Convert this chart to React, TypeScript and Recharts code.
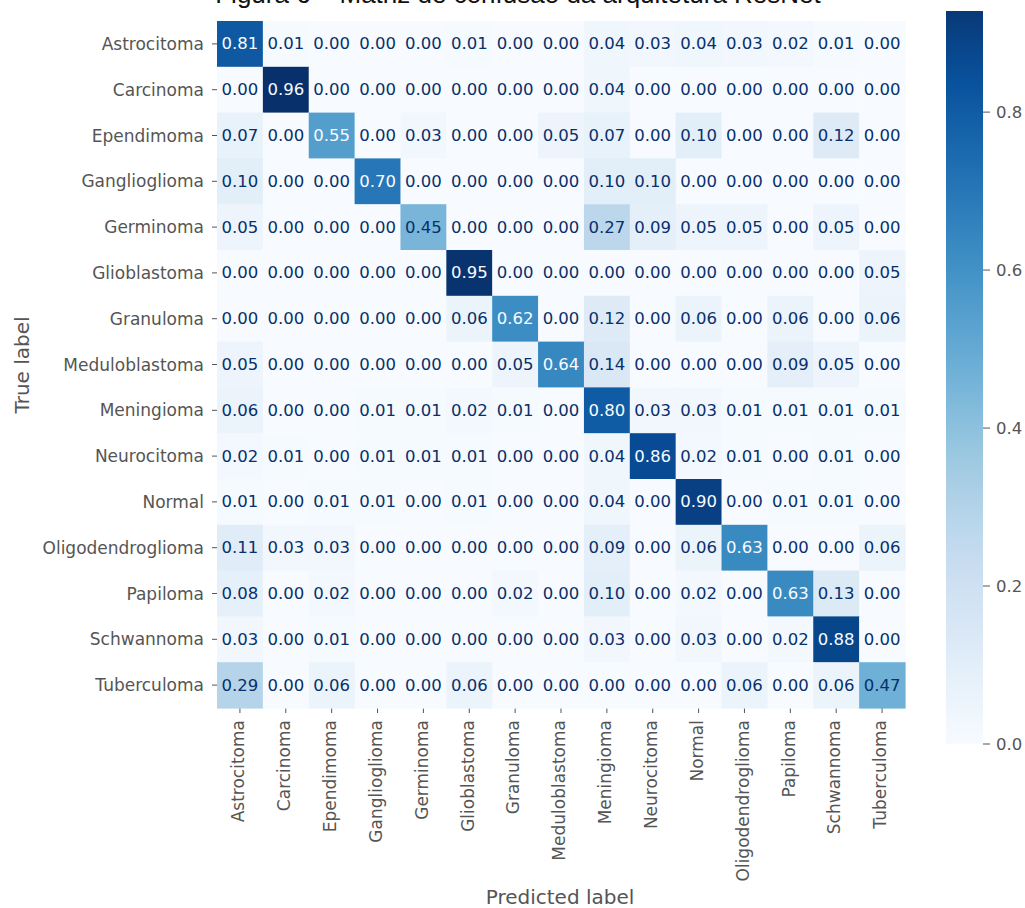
import React from 'react';
import {
  ScatterChart,
  Scatter,
  XAxis,
  YAxis,
  BarChart,
  Bar,
} from 'recharts';

// classes (same order on both axes)
const labels = [
  'Astrocitoma', 'Carcinoma', 'Ependimoma', 'Ganglioglioma', 'Germinoma',
  'Glioblastoma', 'Granuloma', 'Meduloblastoma', 'Meningioma', 'Neurocitoma',
  'Normal', 'Oligodendroglioma', 'Papiloma', 'Schwannoma', 'Tuberculoma',
];

// one row per true label
const astrocitoma = [0.81, 0.01, 0.00, 0.00, 0.00, 0.01, 0.00, 0.00, 0.04, 0.03, 0.04, 0.03, 0.02, 0.01, 0.00];
const carcinoma = [0.00, 0.96, 0.00, 0.00, 0.00, 0.00, 0.00, 0.00, 0.04, 0.00, 0.00, 0.00, 0.00, 0.00, 0.00];
const ependimoma = [0.07, 0.00, 0.55, 0.00, 0.03, 0.00, 0.00, 0.05, 0.07, 0.00, 0.10, 0.00, 0.00, 0.12, 0.00];
const ganglioglioma = [0.10, 0.00, 0.00, 0.70, 0.00, 0.00, 0.00, 0.00, 0.10, 0.10, 0.00, 0.00, 0.00, 0.00, 0.00];
const germinoma = [0.05, 0.00, 0.00, 0.00, 0.45, 0.00, 0.00, 0.00, 0.27, 0.09, 0.05, 0.05, 0.00, 0.05, 0.00];
const glioblastoma = [0.00, 0.00, 0.00, 0.00, 0.00, 0.95, 0.00, 0.00, 0.00, 0.00, 0.00, 0.00, 0.00, 0.00, 0.05];
const granuloma = [0.00, 0.00, 0.00, 0.00, 0.00, 0.06, 0.62, 0.00, 0.12, 0.00, 0.06, 0.00, 0.06, 0.00, 0.06];
const meduloblastoma = [0.05, 0.00, 0.00, 0.00, 0.00, 0.00, 0.05, 0.64, 0.14, 0.00, 0.00, 0.00, 0.09, 0.05, 0.00];
const meningioma = [0.06, 0.00, 0.00, 0.01, 0.01, 0.02, 0.01, 0.00, 0.80, 0.03, 0.03, 0.01, 0.01, 0.01, 0.01];
const neurocitoma = [0.02, 0.01, 0.00, 0.01, 0.01, 0.01, 0.00, 0.00, 0.04, 0.86, 0.02, 0.01, 0.00, 0.01, 0.00];
const normal = [0.01, 0.00, 0.01, 0.01, 0.00, 0.01, 0.00, 0.00, 0.04, 0.00, 0.90, 0.00, 0.01, 0.01, 0.00];
const oligodendroglioma = [0.11, 0.03, 0.03, 0.00, 0.00, 0.00, 0.00, 0.00, 0.09, 0.00, 0.06, 0.63, 0.00, 0.00, 0.06];
const papiloma = [0.08, 0.00, 0.02, 0.00, 0.00, 0.00, 0.02, 0.00, 0.10, 0.00, 0.02, 0.00, 0.63, 0.13, 0.00];
const schwannoma = [0.03, 0.00, 0.01, 0.00, 0.00, 0.00, 0.00, 0.00, 0.03, 0.00, 0.03, 0.00, 0.02, 0.88, 0.00];
const tuberculoma = [0.29, 0.00, 0.06, 0.00, 0.00, 0.06, 0.00, 0.00, 0.00, 0.00, 0.00, 0.06, 0.00, 0.06, 0.47];

const rows = [
  astrocitoma, carcinoma, ependimoma, ganglioglioma, germinoma, glioblastoma, granuloma,
  meduloblastoma, meningioma, neurocitoma, normal, oligodendroglioma, papiloma, schwannoma, tuberculoma,
];

const colorbarTicks = [0, 0.2, 0.4, 0.6, 0.8];
const colorbarTop = 0.928;

const cells = rows.flatMap((row, i) => row.map((v, j) => ({ x: j, y: i, v })));
const vmax = Math.max(...cells.map((c) => c.v));
const indices = labels.map((_, i) => i);

// matplotlib "Blues"
const BLUES = ['#f7fbff', '#deebf7', '#c6dbef', '#9ecae1', '#6baed6', '#4292c6', '#2171b5', '#08519c', '#08306b'];
const hex = (h: string) => [1, 3, 5].map((k) => parseInt(h.slice(k, k + 2), 16));
const blues = (t: number) => {
  const s = Math.max(0, Math.min(1, t)) * (BLUES.length - 1);
  const k = Math.min(Math.floor(s), BLUES.length - 2);
  const f = s - k;
  const a = hex(BLUES[k]);
  const b = hex(BLUES[k + 1]);
  const c = a.map((av, n) => Math.round(av + (b[n] - av) * f));
  return `rgb(${c[0]},${c[1]},${c[2]})`;
};

const FONT = '"DejaVu Sans", sans-serif';
const GREY = '#555555';

const W = 940;
const H = 908;
const M = { top: 21, right: 35, bottom: 0, left: 17 };
const Y_W = 200;
const X_H = 200;
const PLOT_W = W - M.left - M.right - Y_W;
const PLOT_H = H - M.top - M.bottom - X_H;

const HeatCell = (props: any) => {
  const { cx, cy, payload } = props;
  const w = PLOT_W / labels.length;
  const h = PLOT_H / labels.length;
  const light = payload.v >= vmax / 2;
  return (
    <g>
      <rect x={cx - w / 2} y={cy - h / 2} width={w + 0.6} height={h + 0.6} fill={blues(payload.v / vmax)} />
      <text
        x={cx}
        y={cy}
        textAnchor="middle"
        dominantBaseline="central"
        fontFamily={FONT}
        fontSize={16.5}
        fill={light ? '#f7fbff' : '#08306b'}
      >
        {payload.v.toFixed(2)}
      </text>
    </g>
  );
};

const XTick = ({ x, y, payload }: any) => (
  <g transform={`translate(${x},${y})`}>
    <text transform="rotate(-90)" textAnchor="end" dy="0.25em" fontFamily={FONT} fontSize={17} fill={GREY}>
      {labels[payload.value]}
    </text>
  </g>
);

const gradStops = Array.from({ length: 21 }, (_, k) => k / 20);

const App: React.FC = () => {
  return (
    <div style={{ position: 'absolute', left: 0, top: 0, width: 1025, height: 908, background: '#fff', overflow: 'hidden' }}>
      <div style={{ position: 'absolute', left: 0, top: 0 }}>
        <ScatterChart width={W} height={H} margin={M}>
          <XAxis
            type="number"
            dataKey="x"
            domain={[-0.5, labels.length - 0.5]}
            ticks={indices}
            interval={0}
            height={X_H}
            axisLine={false}
            tickSize={5}
            tickMargin={7}
            tickLine={{ stroke: GREY }}
            tick={<XTick />}
          />
          <YAxis
            type="number"
            dataKey="y"
            reversed
            domain={[-0.5, labels.length - 0.5]}
            ticks={indices}
            interval={0}
            width={Y_W}
            axisLine={false}
            tickSize={5}
            tickMargin={8}
            tickLine={{ stroke: GREY }}
            tickFormatter={(i: number) => labels[i]}
            tick={{ fill: GREY, fontSize: 17, fontFamily: FONT }}
          />
          <Scatter data={cells} shape={HeatCell} isAnimationActive={false} />
        </ScatterChart>
      </div>

      <div style={{ position: 'absolute', left: 946, top: 1 }}>
        <BarChart
          width={90}
          height={753}
          data={[{ name: 'cb', v: colorbarTop }]}
          margin={{ top: 10, right: 0, bottom: 10, left: 0 }}
          barCategoryGap={0}
        >
          <defs>
            <linearGradient id="bluesGrad" x1="0" y1="1" x2="0" y2="0">
              {gradStops.map((o) => (
                <stop key={o} offset={o} stopColor={blues((o * colorbarTop) / vmax)} />
              ))}
            </linearGradient>
          </defs>
          <XAxis dataKey="name" hide />
          <YAxis
            orientation="right"
            type="number"
            domain={[0, colorbarTop]}
            ticks={colorbarTicks}
            width={53}
            axisLine={false}
            tickSize={7}
            tickMargin={6}
            tickLine={{ stroke: GREY }}
            tickFormatter={(v: number) => v.toFixed(1)}
            tick={{ fill: GREY, fontSize: 16.5, fontFamily: FONT }}
          />
          <Bar dataKey="v" fill="url(#bluesGrad)" isAnimationActive={false} />
        </BarChart>
      </div>

      <svg width={1025} height={908} style={{ position: 'absolute', left: 0, top: 0, pointerEvents: 'none' }}>
        <text x={518} y={3} textAnchor="middle" fontFamily='"Liberation Sans", Arial, sans-serif' fontSize={26} fill="#111">
          Figura 6 – Matriz de confusão da arquitetura ResNet
        </text>
        <text x={560} y={904} textAnchor="middle" fontFamily={FONT} fontSize={20} fill={GREY}>
          Predicted label
        </text>
        <text
          transform="translate(29,365) rotate(-90)"
          textAnchor="middle"
          fontFamily={FONT}
          fontSize={20}
          fill={GREY}
        >
          True label
        </text>
      </svg>
    </div>
  );
};

export default App;
